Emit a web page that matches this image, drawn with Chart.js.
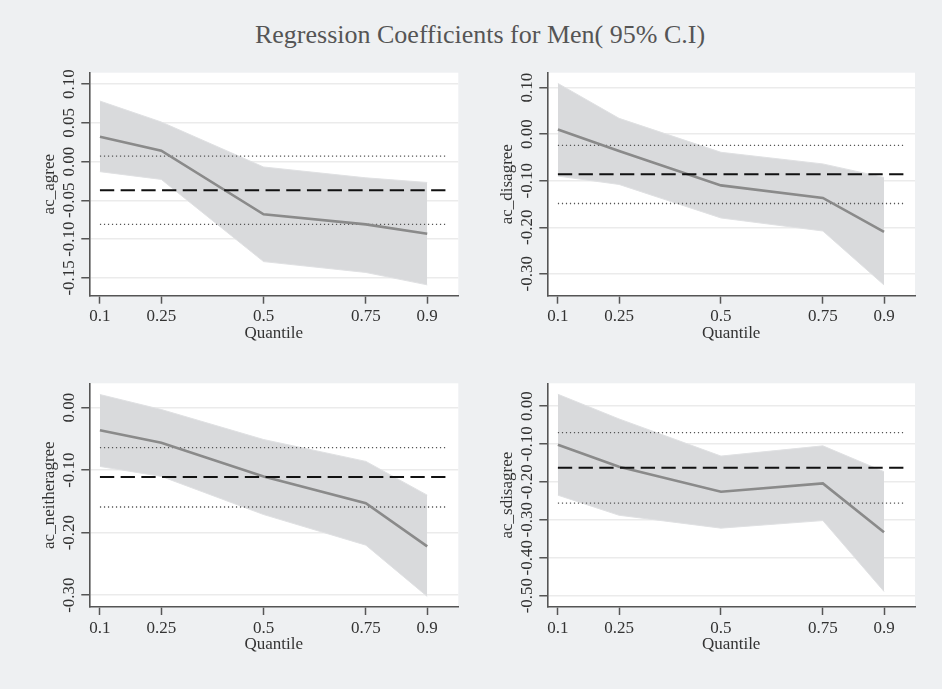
<!DOCTYPE html>
<html>
<head>
<meta charset="utf-8">
<script src="https://cdn.jsdelivr.net/npm/chart.js@4/dist/chart.umd.min.js"></script>
<style>
  html, body { margin: 0; padding: 0; }
  body { width: 942px; height: 689px; background: #eef0f2; position: relative; overflow: hidden; }
  #title { position: absolute; left: 0; top: 22px; width: 960px; text-align: center;
           font-family: "Liberation Serif", "Times New Roman", serif; font-size: 26px; line-height: 1;
           color: #555; }
  canvas { position: absolute; }
</style>
</head>
<body>
<div id="title">Regression Coefficients for Men( 95% C.I)</div>
<canvas id="c1" width="471" height="300" style="left:0px;top:60px"></canvas>
<canvas id="c2" width="484" height="300" style="left:458px;top:60px"></canvas>
<canvas id="c3" width="471" height="300" style="left:0px;top:370px"></canvas>
<canvas id="c4" width="484" height="300" style="left:458px;top:370px"></canvas>
<script>
// ---- data ----
const quantiles = [0.1, 0.25, 0.5, 0.75, 0.9];
const xTickValues = [0.1, 0.25, 0.5, 0.75, 0.9];
const olsLineEnds = [0.1, 0.95];

// ac_agree
const agreeCoef  = [0.032, 0.014, -0.068, -0.081, -0.093];
const agreeUpper = [0.078, 0.051, -0.007, -0.021, -0.027];
const agreeLower = [-0.013, -0.023, -0.129, -0.143, -0.159];
const agreeOls = [-0.037, 0.007, -0.081];          // estimate, upper, lower
const agreeTicks = [-0.15, -0.10, -0.05, 0.00, 0.05, 0.10];

// ac_disagree
const disagreeCoef  = [0.010, -0.036, -0.110, -0.137, -0.210];
const disagreeUpper = [0.109, 0.034, -0.039, -0.064, -0.093];
const disagreeLower = [-0.090, -0.108, -0.180, -0.208, -0.324];
const disagreeOls = [-0.086, -0.024, -0.149];
const disagreeTicks = [-0.30, -0.20, -0.10, 0.00, 0.10];

// ac_neitheragree
const neitherCoef  = [-0.036, -0.056, -0.110, -0.153, -0.222];
const neitherUpper = [0.021, -0.003, -0.051, -0.086, -0.140];
const neitherLower = [-0.094, -0.110, -0.171, -0.220, -0.302];
const neitherOls = [-0.111, -0.064, -0.159];
const neitherTicks = [-0.30, -0.20, -0.10, 0.00];

// ac_sdisagree
const sdisagreeCoef  = [-0.102, -0.160, -0.226, -0.204, -0.333];
const sdisagreeUpper = [0.031, -0.034, -0.132, -0.105, -0.173];
const sdisagreeLower = [-0.235, -0.288, -0.322, -0.302, -0.489];
const sdisagreeOls = [-0.163, -0.070, -0.256];
const sdisagreeTicks = [-0.50, -0.40, -0.30, -0.20, -0.10, 0.00];

// ---- drawing ----
const FONT = '"Liberation Serif", "Times New Roman", serif';
const pts = (ys) => quantiles.map((q, i) => ({x: q, y: ys[i]}));
const hline = (v) => olsLineEnds.map(x => ({x, y: v}));

const plotBg = {
  id: 'plotBg',
  beforeDraw(chart) {
    const {ctx, chartArea: a} = chart;
    ctx.save();
    ctx.fillStyle = '#ffffff';
    ctx.fillRect(a.left, a.top, a.right - a.left, a.bottom - a.top);
    ctx.restore();
  }
};

function makePanel(id, label, coef, upper, lower, ols, yTicks, yMin, yMax, pad, plotH) {
  const canvas = document.getElementById(id);
  const H = canvas.height;
  const xHeight = H - pad.top - plotH;
  new Chart(canvas, {
    type: 'line',
    plugins: [plotBg],
    data: {
      datasets: [
        { data: pts(upper), borderColor: '#e0e1e3', borderWidth: 1, backgroundColor: '#d9dadc',
          fill: 1, pointRadius: 0, tension: 0, order: 5 },
        { data: pts(lower), borderColor: '#e0e1e3', borderWidth: 1, fill: false,
          pointRadius: 0, tension: 0, order: 4 },
        { data: pts(coef), borderColor: '#8a8a8a', borderWidth: 2.6, fill: false,
          pointRadius: 0, tension: 0, order: 2 },
        { data: hline(ols[1]), borderColor: '#555', borderWidth: 1.3, borderDash: [1.2, 2.8],
          fill: false, pointRadius: 0, order: 3 },
        { data: hline(ols[2]), borderColor: '#555', borderWidth: 1.3, borderDash: [1.2, 2.8],
          fill: false, pointRadius: 0, order: 3 },
        { data: hline(ols[0]), borderColor: '#111', borderWidth: 2, borderDash: [14.3, 6.4],
          fill: false, pointRadius: 0, order: 1 }
      ]
    },
    options: {
      responsive: false,
      animation: false,
      devicePixelRatio: 1,
      layout: { padding: { top: pad.top, right: pad.right, left: 0, bottom: 0 } },
      plugins: { legend: { display: false }, tooltip: { enabled: false } },
      scales: {
        x: {
          type: 'linear', min: 0.074, max: 0.976,
          afterBuildTicks: s => { s.ticks = xTickValues.map(v => ({value: v})); },
          afterFit: s => { s.height = xHeight; },
          ticks: { autoSkip: false, maxRotation: 0, padding: 3, color: '#333',
                   font: { family: FONT, size: 17 }, callback: v => String(v) },
          grid: { drawOnChartArea: false, drawTicks: true, tickLength: 8, tickColor: '#555', tickWidth: 1.5 },
          border: { display: true, color: '#555', width: 1.6 },
          title: { display: true, text: 'Quantile', color: '#333', font: { family: FONT, size: 17 },
                   padding: { top: 0, bottom: pad.xTitle } }
        },
        y: {
          type: 'linear', min: yMin, max: yMax,
          afterBuildTicks: s => { s.ticks = yTicks.map(v => ({value: v})); },
          afterFit: s => { s.width = 89.3; },
          ticks: { autoSkip: false, minRotation: 90, maxRotation: 90, crossAlign: 'center',
                   padding: -6.2, color: '#333', font: { family: FONT, size: 17 },
                   callback: v => Number(v).toFixed(2) },
          grid: { color: '#ebebeb', lineWidth: 1.5, drawTicks: true, tickLength: 8,
                  tickColor: '#555', tickWidth: 1.5 },
          border: { display: true, color: '#555', width: 1.6 },
          title: { display: true, text: label, color: '#333', font: { family: FONT, size: 17 },
                   padding: { top: 39.8, bottom: 0 } }
        }
      }
    }
  });
}

makePanel('c1', 'ac_agree', agreeCoef, agreeUpper, agreeLower, agreeOls, agreeTicks,
          -0.173, 0.1146, { top: 12.7, right: 12.7, xTitle: 15.8 }, 223);
makePanel('c2', 'ac_disagree', disagreeCoef, disagreeUpper, disagreeLower, disagreeOls, disagreeTicks,
          -0.347, 0.132, { top: 12.7, right: 27, xTitle: 15.8 }, 223);
makePanel('c3', 'ac_neitheragree', neitherCoef, neitherUpper, neitherLower, neitherOls, neitherTicks,
          -0.319, 0.039, { top: 13.3, right: 12.7, xTitle: 14.8 }, 223.7);
makePanel('c4', 'ac_sdisagree', sdisagreeCoef, sdisagreeUpper, sdisagreeLower, sdisagreeOls, sdisagreeTicks,
          -0.530, 0.060, { top: 13.3, right: 27, xTitle: 14.8 }, 223.7);
</script>
</body>
</html>
